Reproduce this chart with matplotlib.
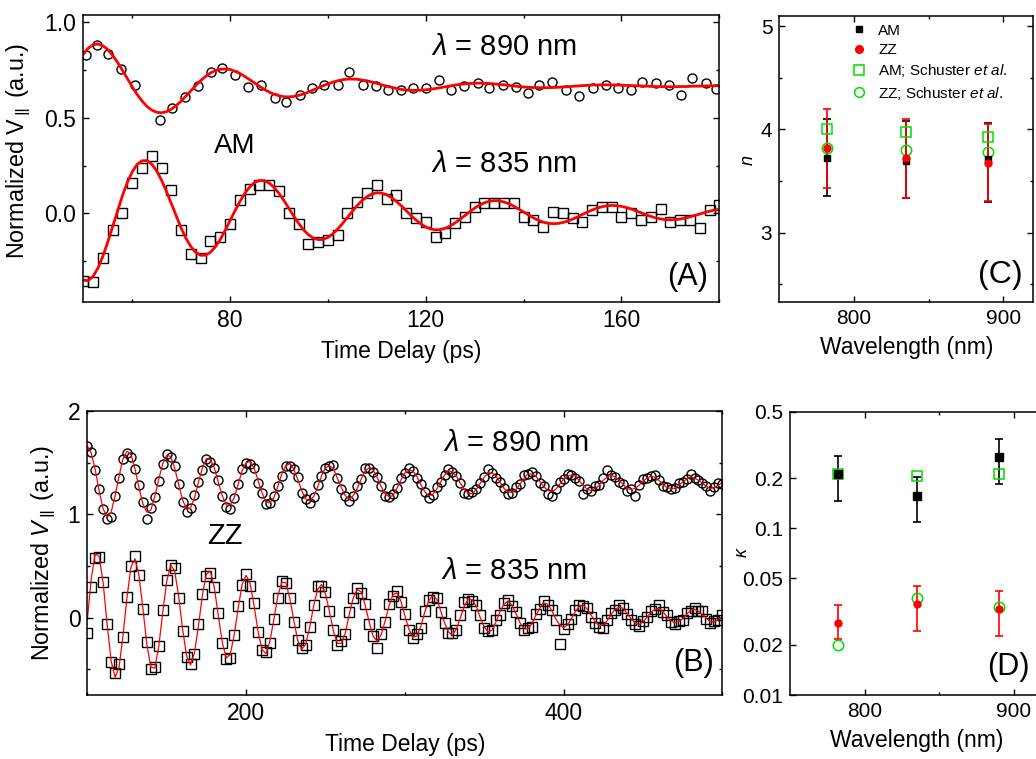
import numpy as np
import matplotlib
matplotlib.use("Agg")
import matplotlib.pyplot as plt
from matplotlib.lines import Line2D
from matplotlib.ticker import NullLocator

plt.rcParams['font.family'] = ['Liberation Sans', 'DejaVu Sans']
plt.rcParams['mathtext.fontset'] = 'custom'
plt.rcParams['mathtext.rm'] = 'Liberation Sans'
plt.rcParams['mathtext.it'] = 'Liberation Sans:italic'
plt.rcParams['mathtext.bf'] = 'Liberation Sans:bold'

# ---- panel A : AM, time traces ----
tA890 = [50.6, 52.7, 55.1, 57.8, 60.6, 65.7, 68.2, 70.8, 73.5, 76.1, 78.4, 81.0, 83.7,
         86.4, 89.1, 91.5, 94.2, 96.8, 99.3, 102.0, 104.4, 107.1, 109.9, 112.2, 115.0,
         117.3, 120.1, 122.8, 125.2, 127.9, 130.6, 133.0, 135.7, 138.4, 140.8, 143.2,
         145.9, 148.7, 151.4, 154.1, 156.8, 159.2, 161.9, 164.3, 167.0, 169.7, 172.1,
         174.5, 177.2, 179.3]
vA890 = [0.826, 0.878, 0.831, 0.751, 0.670, 0.488, 0.548, 0.609, 0.664, 0.739, 0.757,
         0.722, 0.661, 0.670, 0.600, 0.583, 0.617, 0.652, 0.670, 0.670, 0.739, 0.670,
         0.664, 0.643, 0.643, 0.652, 0.652, 0.696, 0.643, 0.664, 0.682, 0.652, 0.670,
         0.661, 0.626, 0.670, 0.687, 0.643, 0.612, 0.652, 0.670, 0.652, 0.643, 0.687,
         0.682, 0.670, 0.617, 0.705, 0.679, 0.647]
tA835 = [50, 52, 54, 56, 58, 60, 62, 64, 66, 68, 70, 72, 74, 76, 78, 80, 82, 84, 86, 88,
         90, 92, 94, 96, 98, 100, 102, 104, 106, 108, 110, 112, 114, 116, 118, 120, 122,
         124, 126, 128, 130, 132, 134, 136, 138, 140, 142, 144, 146, 148, 150, 152, 154,
         156, 158, 160, 162, 164, 166, 168, 170, 172, 174, 176, 178, 180]
vA835 = [-0.350, -0.357, -0.230, -0.087, 0.005, 0.157, 0.235, 0.301, 0.235, 0.122, -0.087,
         -0.212, -0.232, -0.143, -0.122, -0.056, 0.069, 0.127, 0.148, 0.148, 0.116, 0.005,
         -0.056, -0.157, -0.151, -0.139, -0.110, 0.005, 0.061, 0.108, 0.151, 0.075, 0.096,
         0.000, -0.026, -0.044, -0.122, -0.104, -0.049, -0.018, 0.035, 0.055, 0.055, 0.055,
         0.055, -0.018, -0.035, -0.070, 0.008, 0.000, -0.026, -0.044, 0.017, 0.035, 0.035,
         -0.018, 0.000, -0.035, -0.018, 0.026, -0.044, -0.035, -0.035, -0.078, 0.017, 0.043]

# fitted curves of panel A (red lines)
tA_fit = [50, 51, 52, 53, 54, 55, 56, 57, 58, 59, 60, 61, 62, 63, 64, 65, 66, 67, 68, 69,
          70, 71, 72, 73, 74, 75, 76, 77, 78, 79, 80, 81, 82, 83, 84, 85, 86, 87, 88, 89,
          90, 91, 92, 93, 94, 95, 96, 97, 98, 99, 100, 101, 102, 103, 104, 105, 106, 107,
          108, 109, 110, 111, 112, 113, 114, 115, 116, 117, 118, 119, 120, 121, 122, 123,
          124, 125, 126, 127, 128, 129, 130, 131, 132, 133, 134, 135, 136, 137, 138, 139,
          140, 141, 142, 143, 144, 145, 146, 147, 148, 149, 150, 151, 152, 153, 154, 155,
          156, 157, 158, 159, 160, 161, 162, 163, 164, 165, 166, 167, 168, 169, 170, 171,
          172, 173, 174, 175, 176, 177, 178, 179, 180]
fitA890 = [0.831, 0.862, 0.880, 0.884, 0.875, 0.855, 0.825, 0.788, 0.747, 0.704,
           0.661, 0.621, 0.587, 0.559, 0.539, 0.528, 0.525, 0.531, 0.544, 0.563,
           0.586, 0.613, 0.640, 0.668, 0.693, 0.715, 0.733, 0.745, 0.752, 0.754,
           0.751, 0.742, 0.730, 0.715, 0.698, 0.681, 0.663, 0.647, 0.633, 0.622,
           0.614, 0.609, 0.608, 0.610, 0.616, 0.623, 0.633, 0.644, 0.655, 0.666,
           0.676, 0.685, 0.692, 0.698, 0.701, 0.701, 0.700, 0.696, 0.692, 0.685,
           0.679, 0.671, 0.664, 0.658, 0.652, 0.647, 0.644, 0.642, 0.642, 0.643,
           0.645, 0.648, 0.652, 0.656, 0.661, 0.665, 0.670, 0.673, 0.676, 0.678,
           0.679, 0.680, 0.679, 0.678, 0.676, 0.673, 0.671, 0.668, 0.665, 0.662,
           0.660, 0.658, 0.657, 0.656, 0.656, 0.656, 0.657, 0.658, 0.660, 0.661,
           0.663, 0.665, 0.667, 0.668, 0.670, 0.670, 0.671, 0.671, 0.671, 0.670,
           0.669, 0.668, 0.667, 0.666, 0.665, 0.664, 0.663, 0.662, 0.662, 0.661,
           0.661, 0.661, 0.662, 0.662, 0.663, 0.664, 0.664, 0.665, 0.666, 0.666,
           0.667]
fitA835 = [-0.348, -0.350, -0.328, -0.284, -0.223, -0.149, -0.068, 0.014, 0.093, 0.162,
           0.217, 0.256, 0.275, 0.276, 0.257, 0.222, 0.173, 0.115, 0.051, -0.014,
           -0.076, -0.130, -0.173, -0.203, -0.218, -0.217, -0.202, -0.174, -0.135, -0.088,
           -0.037, 0.014, 0.062, 0.105, 0.138, 0.161, 0.172, 0.171, 0.159, 0.136,
           0.105, 0.068, 0.027, -0.013, -0.051, -0.084, -0.110, -0.128, -0.136, -0.135,
           -0.125, -0.106, -0.081, -0.052, -0.020, 0.012, 0.042, 0.068, 0.088, 0.102,
           0.108, 0.106, 0.098, 0.083, 0.063, 0.040, 0.015, -0.011, -0.034, -0.054,
           -0.070, -0.081, -0.085, -0.084, -0.077, -0.065, -0.049, -0.030, -0.011, 0.009,
           0.028, 0.044, 0.056, 0.064, 0.067, 0.066, 0.060, 0.051, 0.038, 0.023,
           0.008, -0.008, -0.023, -0.035, -0.045, -0.051, -0.053, -0.052, -0.047, -0.040,
           -0.029, -0.018, -0.005, 0.007, 0.018, 0.028, 0.035, 0.040, 0.042, 0.041,
           0.037, 0.031, 0.023, 0.014, 0.004, -0.006, -0.015, -0.023, -0.028, -0.032,
           -0.033, -0.032, -0.029, -0.024, -0.018, -0.010, -0.003, 0.005, 0.012, 0.018,
           0.022]

# ---- panel B : ZZ, time traces ----
tB = [100, 102.5, 105, 107.5, 110, 112.5, 115, 117.5, 120, 122.5,
      125, 127.5, 130, 132.5, 135, 137.5, 140, 142.5, 145, 147.5,
      150, 152.5, 155, 157.5, 160, 162.5, 165, 167.5, 170, 172.5,
      175, 177.5, 180, 182.5, 185, 187.5, 190, 192.5, 195, 197.5,
      200, 202.5, 205, 207.5, 210, 212.5, 215, 217.5, 220, 222.5,
      225, 227.5, 230, 232.5, 235, 237.5, 240, 242.5, 245, 247.5,
      250, 252.5, 255, 257.5, 260, 262.5, 265, 267.5, 270, 272.5,
      275, 277.5, 280, 282.5, 285, 287.5, 290, 292.5, 295, 297.5,
      300, 302.5, 305, 307.5, 310, 312.5, 315, 317.5, 320, 322.5,
      325, 327.5, 330, 332.5, 335, 337.5, 340, 342.5, 345, 347.5,
      350, 352.5, 355, 357.5, 360, 362.5, 365, 367.5, 370, 372.5,
      375, 377.5, 380, 382.5, 385, 387.5, 390, 392.5, 395, 397.5,
      400, 402.5, 405, 407.5, 410, 412.5, 415, 417.5, 420, 422.5,
      425, 427.5, 430, 432.5, 435, 437.5, 440, 442.5, 445, 447.5,
      450, 452.5, 455, 457.5, 460, 462.5, 465, 467.5, 470, 472.5,
      475, 477.5, 480, 482.5, 485, 487.5, 490, 492.5, 495, 497.5,
      500]
vB890 = [1.66, 1.60, 1.43, 1.24, 1.05, 0.95, 0.97, 1.18, 1.35, 1.54,
         1.59, 1.55, 1.44, 1.28, 1.12, 0.95, 1.06, 1.17, 1.32, 1.49,
         1.58, 1.55, 1.47, 1.29, 1.12, 1.02, 1.06, 1.19, 1.31, 1.43,
         1.54, 1.51, 1.45, 1.33, 1.18, 1.07, 1.05, 1.16, 1.29, 1.44,
         1.50, 1.49, 1.45, 1.30, 1.21, 1.10, 1.11, 1.18, 1.27, 1.37,
         1.47, 1.47, 1.44, 1.36, 1.21, 1.15, 1.11, 1.17, 1.28, 1.37,
         1.45, 1.47, 1.48, 1.35, 1.24, 1.18, 1.13, 1.18, 1.27, 1.34,
         1.45, 1.45, 1.41, 1.36, 1.27, 1.18, 1.17, 1.20, 1.25, 1.35,
         1.40, 1.45, 1.42, 1.35, 1.29, 1.22, 1.16, 1.19, 1.26, 1.31,
         1.38, 1.44, 1.41, 1.37, 1.30, 1.21, 1.20, 1.22, 1.24, 1.30,
         1.36, 1.44, 1.40, 1.35, 1.31, 1.25, 1.20, 1.21, 1.26, 1.29,
         1.38, 1.39, 1.41, 1.37, 1.30, 1.27, 1.20, 1.18, 1.24, 1.31,
         1.34, 1.39, 1.38, 1.35, 1.32, 1.20, 1.24, 1.23, 1.27, 1.28,
         1.35, 1.43, 1.38, 1.36, 1.31, 1.29, 1.23, 1.24, 1.18, 1.28,
         1.34, 1.35, 1.37, 1.38, 1.33, 1.27, 1.26, 1.24, 1.25, 1.30,
         1.31, 1.34, 1.39, 1.35, 1.33, 1.30, 1.27, 1.23, 1.26, 1.30,
         1.29]
vB835 = [-0.15, 0.30, 0.58, 0.59, 0.34, -0.06, -0.43, -0.54, -0.45, -0.19,
         0.20, 0.50, 0.60, 0.41, 0.08, -0.24, -0.50, -0.48, -0.28, 0.07,
         0.36, 0.51, 0.48, 0.19, -0.13, -0.38, -0.45, -0.35, -0.06, 0.23,
         0.40, 0.43, 0.30, 0.04, -0.25, -0.40, -0.39, -0.17, 0.11, 0.32,
         0.42, 0.31, 0.14, -0.14, -0.31, -0.33, -0.25, -0.01, 0.19, 0.35,
         0.33, 0.19, -0.04, -0.22, -0.29, -0.27, -0.09, 0.12, 0.31, 0.31,
         0.25, 0.06, -0.12, -0.27, -0.23, -0.16, 0.05, 0.19, 0.29, 0.24,
         0.13, -0.06, -0.18, -0.29, -0.16, -0.04, 0.13, 0.21, 0.26, 0.15,
         0.03, -0.12, -0.20, -0.16, -0.10, 0.06, 0.17, 0.20, 0.19, 0.05,
         -0.05, -0.15, -0.15, -0.12, 0.02, 0.15, 0.18, 0.16, 0.12, 0.02,
         -0.10, -0.13, -0.12, -0.02, 0.02, 0.14, 0.17, 0.11, 0.05, -0.05,
         -0.12, -0.10, -0.09, 0.03, 0.08, 0.16, 0.12, 0.07, -0.02, -0.26,
         -0.11, -0.06, -0.01, 0.07, 0.12, 0.11, 0.09, 0.01, -0.05, -0.09,
         -0.10, -0.02, 0.04, 0.07, 0.12, 0.09, 0.03, -0.02, -0.06, -0.08,
         -0.03, 0.01, 0.06, 0.08, 0.12, 0.05, 0.02, -0.04, -0.06, -0.03,
         -0.02, 0.04, 0.06, 0.09, 0.06, 0.06, -0.01, -0.05, -0.03, -0.02,
         0.02]
fitB890 = [1.66, 1.59, 1.43, 1.22, 1.05, 0.97, 1.02, 1.18, 1.37, 1.54,
           1.61, 1.58, 1.44, 1.26, 1.10, 1.02, 1.04, 1.17, 1.34, 1.49,
           1.57, 1.56, 1.45, 1.29, 1.14, 1.05, 1.06, 1.16, 1.31, 1.45,
           1.54, 1.53, 1.45, 1.31, 1.18, 1.09, 1.09, 1.16, 1.29, 1.42,
           1.50, 1.51, 1.45, 1.33, 1.21, 1.12, 1.11, 1.16, 1.27, 1.39,
           1.47, 1.49, 1.44, 1.34, 1.23, 1.15, 1.13, 1.17, 1.26, 1.37,
           1.45, 1.47, 1.44, 1.35, 1.26, 1.18, 1.15, 1.18, 1.25, 1.34,
           1.42, 1.45, 1.43, 1.36, 1.27, 1.20, 1.17, 1.18, 1.25, 1.33,
           1.40, 1.43, 1.42, 1.37, 1.29, 1.22, 1.18, 1.19, 1.24, 1.31,
           1.38, 1.42, 1.41, 1.37, 1.30, 1.24, 1.20, 1.20, 1.24, 1.30,
           1.36, 1.40, 1.40, 1.37, 1.31, 1.25, 1.22, 1.21, 1.24, 1.29,
           1.35, 1.39, 1.39, 1.37, 1.32, 1.27, 1.23, 1.22, 1.24, 1.29,
           1.34, 1.37, 1.38, 1.37, 1.32, 1.28, 1.24, 1.23, 1.25, 1.28,
           1.33, 1.36, 1.38, 1.36, 1.33, 1.29, 1.25, 1.24, 1.25, 1.28,
           1.32, 1.35, 1.37, 1.36, 1.33, 1.29, 1.26, 1.25, 1.25, 1.28,
           1.31, 1.34, 1.36, 1.35, 1.33, 1.30, 1.27, 1.25, 1.26, 1.28,
           1.31]
fitB835 = [-0.02, 0.38, 0.62, 0.59, 0.33, -0.07, -0.42, -0.58, -0.48, -0.17,
           0.20, 0.49, 0.57, 0.41, 0.09, -0.26, -0.48, -0.49, -0.28, 0.05,
           0.35, 0.51, 0.45, 0.21, -0.11, -0.37, -0.46, -0.34, -0.08, 0.22,
           0.42, 0.45, 0.29, 0.02, -0.24, -0.39, -0.36, -0.17, 0.09, 0.32,
           0.41, 0.33, 0.12, -0.13, -0.31, -0.35, -0.23, -0.02, 0.21, 0.34,
           0.34, 0.19, -0.02, -0.22, -0.31, -0.26, -0.10, 0.11, 0.27, 0.32,
           0.23, 0.06, -0.13, -0.25, -0.25, -0.15, 0.03, 0.19, 0.27, 0.25,
           0.12, -0.04, -0.18, -0.23, -0.17, -0.04, 0.11, 0.22, 0.24, 0.16,
           0.02, -0.11, -0.19, -0.18, -0.09, 0.05, 0.16, 0.21, 0.18, 0.07,
           -0.05, -0.14, -0.17, -0.11, 0.00, 0.11, 0.18, 0.17, 0.11, 0.00,
           -0.09, -0.14, -0.12, -0.04, 0.06, 0.13, 0.16, 0.12, 0.04, -0.05,
           -0.11, -0.11, -0.06, 0.02, 0.09, 0.14, 0.13, 0.07, -0.01, -0.07,
           -0.10, -0.07, -0.01, 0.06, 0.11, 0.12, 0.08, 0.02, -0.04, -0.08,
           -0.07, -0.03, 0.03, 0.08, 0.10, 0.09, 0.04, -0.01, -0.05, -0.07,
           -0.04, 0.00, 0.05, 0.08, 0.09, 0.06, 0.01, -0.03, -0.05, -0.04,
           -0.01, 0.03, 0.07, 0.08, 0.06, 0.03, -0.01, -0.04, -0.04, -0.02,
           0.01]

# ---- panels C and D : n and kappa vs wavelength ----
wl = [782, 835, 890]
n_am = [3.72, 3.69, 3.71]
n_am_lo = [3.35, 3.33, 3.30]
n_am_hi = [4.10, 4.08, 4.06]
n_zz = [3.82, 3.72, 3.67]
n_zz_lo = [3.43, 3.33, 3.31]
n_zz_hi = [4.20, 4.10, 4.05]
n_am_sch = [4.00, 3.97, 3.93]
n_zz_sch = [3.82, 3.80, 3.78]
k_am = [0.211, 0.156, 0.266]
k_am_lo = [0.146, 0.109, 0.185]
k_am_hi = [0.271, 0.202, 0.343]
k_zz = [0.0269, 0.0350, 0.0327]
k_zz_lo = [0.0216, 0.0243, 0.0226]
k_zz_hi = [0.0345, 0.0451, 0.0421]
k_am_sch = [0.212, 0.207, 0.212]
k_zz_sch = [0.0200, 0.0380, 0.0339]

GREEN = '#00dd00'


def style(ax, fs):
    ax.tick_params(which='both', direction='in', top=True, right=True, labelsize=fs, width=1.0)
    ax.tick_params(which='major', length=4.5, pad=5)
    ax.tick_params(which='minor', length=2.5)
    for s in ax.spines.values():
        s.set_linewidth(1.1)


def yerr(v, lo, hi):
    return [np.subtract(v, lo), np.subtract(hi, v)]


fig = plt.figure(figsize=(10.36, 7.59), dpi=100)
axA = fig.add_axes([0.0804, 0.6025, 0.6139, 0.3777])
axB = fig.add_axes([0.0843, 0.0843, 0.6129, 0.3742])
axC = fig.add_axes([0.7522, 0.6025, 0.2452, 0.3768])
axD = fig.add_axes([0.7625, 0.0843, 0.2450, 0.3733])

# (A)
axA.plot(tA890, vA890, 'o', ms=6.5, mfc='none', mec='k', mew=1.0)
axA.plot(tA835, vA835, 's', ms=6.5, mfc='none', mec='k', mew=1.0)
axA.plot(tA_fit, fitA890, '-', color='red', lw=2.0)
axA.plot(tA_fit, fitA835, '-', color='red', lw=2.0)
axA.set_xlim(50, 180)
axA.set_ylim(-0.46, 1.035)
axA.set_xticks([80, 120, 160])
axA.set_xticks([60, 100, 140, 180], minor=True)
axA.set_yticks([0.0, 0.5, 1.0])
axA.set_yticklabels(['0.0', '0.5', '1.0'])
axA.set_yticks([-0.25, 0.25, 0.75], minor=True)
style(axA, 16.5)
axA.set_xlabel('Time Delay (ps)', fontsize=16.5, labelpad=6)
axA.set_ylabel(r'Normalized V$_{\mathbf{\parallel}}$ (a.u.)', fontsize=16.8)
axA.yaxis.set_label_coords(-0.079, 0.526)
axA.text(136, 0.87, r'$\lambda$ = 890 nm', fontsize=21, ha='center', va='center')
axA.text(136, 0.26, r'$\lambda$ = 835 nm', fontsize=21, ha='center', va='center')
axA.text(81, 0.353, 'AM', fontsize=20, ha='center', va='center')
axA.text(173.5, -0.33, '(A)', fontsize=22, ha='center', va='center')

# (B)
axB.plot(tB, vB890, 'o', ms=6.5, mfc='none', mec='k', mew=1.0)
axB.plot(tB, vB835, 's', ms=6.5, mfc='none', mec='k', mew=1.0)
axB.plot(tB, fitB890, '-', color='red', lw=0.9)
axB.plot(tB, fitB835, '-', color='red', lw=0.9)
axB.set_xlim(100, 500)
axB.set_ylim(-0.75, 2.0)
axB.set_xticks([200, 400])
axB.set_xticks([100, 300, 500], minor=True)
axB.set_yticks([0, 1, 2])
axB.set_yticks([-0.5, 0.5, 1.5], minor=True)
style(axB, 16.5)
axB.set_xlabel('Time Delay (ps)', fontsize=16.5, labelpad=6)
axB.set_ylabel(r'Normalized $V_{\mathbf{\parallel}}$ (a.u.)', fontsize=16.8)
axB.yaxis.set_label_coords(-0.046, 0.5)
axB.text(370, 1.69, r'$\lambda$ = 890 nm', fontsize=21, ha='center', va='center')
axB.text(368.5, 0.448, r'$\lambda$ = 835 nm', fontsize=21, ha='center', va='center')
axB.text(186.8, 0.79, 'ZZ', fontsize=21, ha='center', va='center')
axB.text(482, -0.444, '(B)', fontsize=22, ha='center', va='center')

# (C)
axC.errorbar(wl, n_am, yerr=yerr(n_am, n_am_lo, n_am_hi), fmt='s', ms=4.5, color='k',
             ecolor='k', elinewidth=1.2, capsize=3, capthick=1.2)
axC.errorbar(wl, n_zz, yerr=yerr(n_zz, n_zz_lo, n_zz_hi), fmt='o', ms=5, color='red',
             ecolor='red', elinewidth=1.2, capsize=3, capthick=1.2)
axC.plot(wl, n_am_sch, 's', ms=7.5, mfc='none', mec=GREEN, mew=1.1)
axC.plot(wl, n_zz_sch, 'o', ms=7.5, mfc='none', mec=GREEN, mew=1.1)
axC.set_xlim(750, 920)
axC.set_ylim(2.33, 5.1)
axC.set_xticks([800, 900])
axC.set_xticks([850], minor=True)
axC.set_yticks([3, 4, 5])
axC.set_yticks([2.5, 3.5, 4.5], minor=True)
style(axC, 15)
axC.set_xlabel('Wavelength (nm)', fontsize=16.5, labelpad=6)
axC.set_ylabel(r'$n$', fontsize=13)
axC.yaxis.set_label_coords(-0.087, 0.495)
axC.text(898, 2.59, '(C)', fontsize=23, ha='center', va='center')
handles = [Line2D([], [], ls='none', marker='s', ms=5, color='k'),
           Line2D([], [], ls='none', marker='o', ms=5.5, color='red'),
           Line2D([], [], ls='none', marker='s', ms=7, mfc='none', mec=GREEN, mew=1.1),
           Line2D([], [], ls='none', marker='o', ms=7, mfc='none', mec=GREEN, mew=1.1)]
labels = ['AM', 'ZZ', r'AM; Schuster $et\ al.$', r'ZZ; Schuster $et\ al.$']
axC.legend(handles, labels, loc='upper left', bbox_to_anchor=(0.282, 0.972), frameon=False,
           fontsize=11, handlelength=1.0, handletextpad=0.8, labelspacing=0.35,
           borderpad=0, borderaxespad=0)

# (D)
axD.errorbar(wl, k_am, yerr=yerr(k_am, k_am_lo, k_am_hi), fmt='s', ms=5.5, color='k',
             ecolor='k', elinewidth=1.2, capsize=3, capthick=1.2)
axD.plot(wl, k_am_sch, 's', ms=7.5, mfc='none', mec=GREEN, mew=1.1)
axD.errorbar(wl, k_zz, yerr=yerr(k_zz, k_zz_lo, k_zz_hi), fmt='o', ms=5, color='red',
             ecolor='red', elinewidth=1.2, capsize=3, capthick=1.2)
axD.plot(wl, k_zz_sch, 'o', ms=7.5, mfc='none', mec=GREEN, mew=1.1)
axD.set_yscale('log')
axD.set_xlim(750, 920)
axD.set_ylim(0.01, 0.5)
axD.set_yticks([0.01, 0.02, 0.05, 0.1, 0.2, 0.5])
axD.set_yticklabels(['0.01', '0.02', '0.05', '0.1', '0.2', '0.5'])
axD.yaxis.set_minor_locator(NullLocator())
axD.set_xticks([800, 900])
axD.set_xticks([850], minor=True)
style(axD, 15)
axD.set_xlabel('Wavelength (nm)', fontsize=16.5, labelpad=6)
axD.set_ylabel(r'$\kappa$', fontsize=13)
axD.yaxis.set_label_coords(-0.154, 0.505)
axD.text(896.6, 0.0147, '(D)', fontsize=22, ha='center', va='center')

fig.savefig('out.png', dpi=100)
